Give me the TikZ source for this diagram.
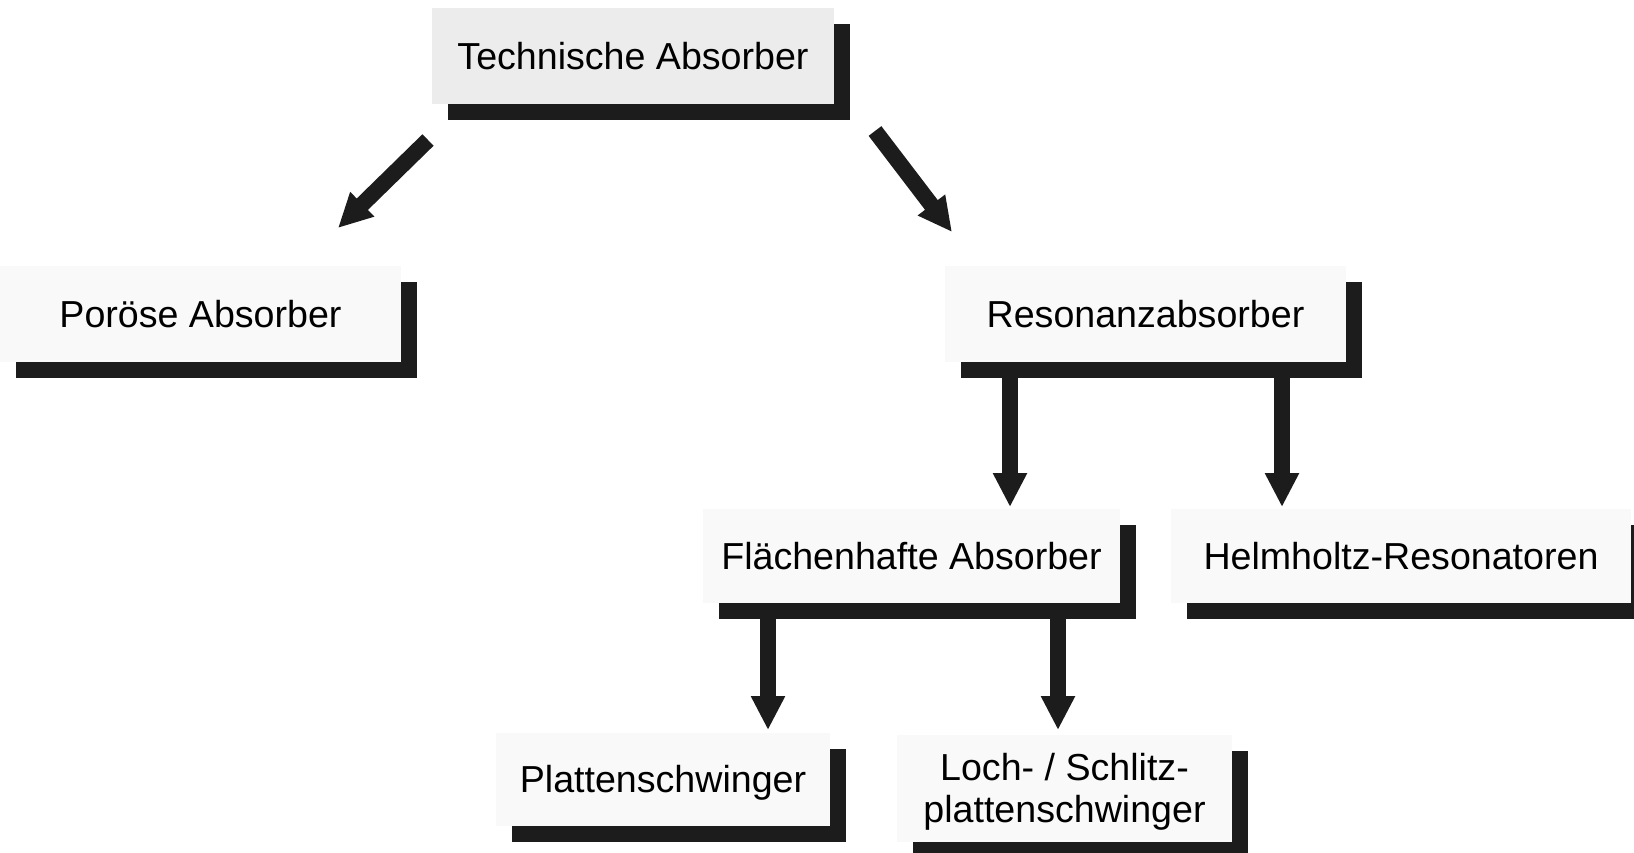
\documentclass[tikz,border=0pt]{standalone}
\usepackage{fontspec}
\setmainfont{Liberation Sans}
\usetikzlibrary{arrows.meta,shadows}
\definecolor{topfill}{RGB}{236,236,236}
\definecolor{boxfill}{RGB}{249,249,249}
\definecolor{shadowc}{RGB}{28,28,28}
\tikzset{
  box/.style={fill=boxfill, inner sep=0pt, align=center,
    font=\fontsize{18.8}{21}\selectfont,
    general shadow={shadow xshift=8pt, shadow yshift=-8pt, fill=shadowc}},
  blockarrow/.style={draw=shadowc, line width=8pt,
    -{Triangle[width=16pt,length=17pt]}}
}
\begin{document}
\begin{tikzpicture}[x=0.5pt,y=-0.5pt]
\useasboundingbox (0,0) rectangle (1634,852);
\clip (0,0) rectangle (1634,852);
\fill[white] (0,0) rectangle (1634,852);

\node[box, fill=topfill, minimum width=201pt, minimum height=48pt] (top) at (633,56) {Technische Absorber};
\node[box, minimum width=200.5pt, minimum height=48pt] (por) at (200.5,314) {Poröse Absorber};
\node[box, minimum width=200.5pt, minimum height=48pt] (res) at (1145.5,314) {Resonanzabsorber};
\node[box, minimum width=208.5pt, minimum height=47pt] (fla) at (911.5,556) {Flächenhafte Absorber};
\node[box, minimum width=230pt, minimum height=47pt] (hel) at (1401,556) {Helmholtz-Resonatoren};
\node[box, minimum width=167pt, minimum height=46.5pt] (pla) at (663,779.5) {\raisebox{-1.6pt}[\height][\depth]{Plattenschwinger}};
\node[box, minimum width=167.5pt, minimum height=53.5pt] (loc) at (1064.5,788.5) {\raisebox{-2.4pt}[\height][\depth]{\begin{tabular}{@{}c@{}}Loch- / Schlitz-\\plattenschwinger\end{tabular}}};

\coordinate (d1s) at (428,140);
\coordinate (d1e) at (338,228);
\coordinate (d2s) at (875,131);
\coordinate (d2e) at (952,232);
\coordinate (v1s) at (1010,377);
\coordinate (v1e) at (1010,507);
\coordinate (v2s) at (1282,377);
\coordinate (v2e) at (1282,507);
\coordinate (v3s) at (768,619);
\coordinate (v3e) at (768,730);
\coordinate (v4s) at (1058,619);
\coordinate (v4e) at (1058,730);

\draw[blockarrow] (d1s) -- (d1e);
\draw[blockarrow] (d2s) -- (d2e);
\draw[blockarrow] (v1s) -- (v1e);
\draw[blockarrow] (v2s) -- (v2e);
\draw[blockarrow] (v3s) -- (v3e);
\draw[blockarrow] (v4s) -- (v4e);
\end{tikzpicture}
\end{document}
